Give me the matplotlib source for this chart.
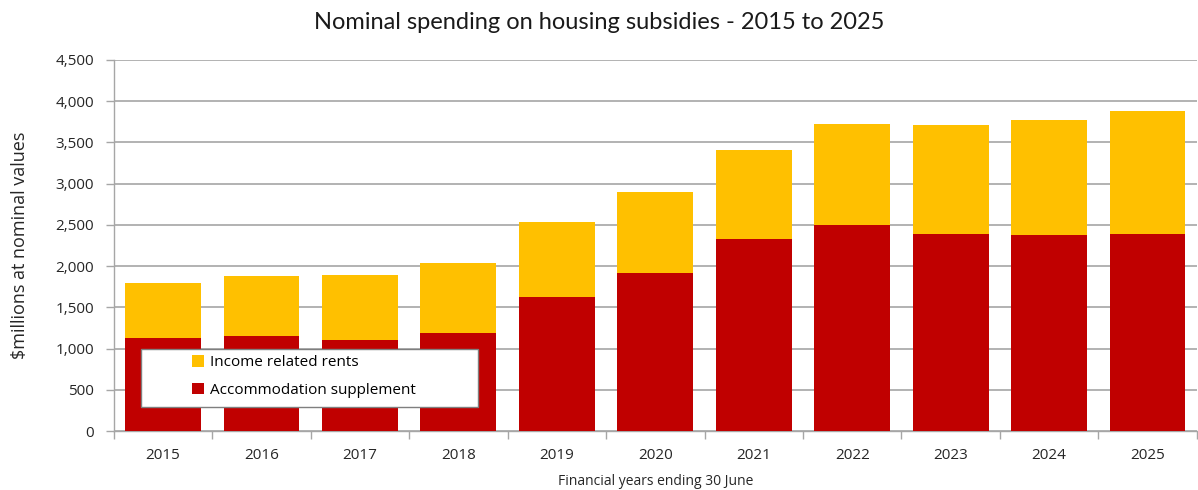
import matplotlib
matplotlib.use("Agg")
import matplotlib.pyplot as plt
import numpy as np
from matplotlib.ticker import FuncFormatter, FixedLocator
from matplotlib.patches import Rectangle

years = ["2015", "2016", "2017", "2018", "2019", "2020", "2021", "2022", "2023", "2024", "2025"]
accommodation_supplement = [1124, 1156, 1108, 1189, 1625, 1920, 2325, 2495, 2390, 2374, 2390]
total_spending = [1792, 1880, 1892, 2038, 2539, 2899, 3409, 3724, 3708, 3769, 3878]
income_related_rents = [t - a for t, a in zip(total_spending, accommodation_supplement)]

RED = "#C00000"
GOLD = "#FFC000"
GRID = "#A6A6A6"
TEXT = "#262626"

plt.rcParams["font.family"] = ["Open Sans", "DejaVu Sans"]

fig = plt.figure(figsize=(11.98, 4.9), dpi=100)
ax = fig.add_axes([0.095, 0.120, 0.904, 0.758])

x = np.arange(len(years))
w = 0.77
ax.bar(x, accommodation_supplement, w, color=RED, label="Accommodation supplement", zorder=3)
ax.bar(x, income_related_rents, w, bottom=accommodation_supplement, color=GOLD,
       label="Income related rents", zorder=3)

ax.set_xlim(-0.5, len(years) - 0.5)
ax.set_ylim(0, 4500)
ax.set_yticks(np.arange(0, 4501, 500))
ax.yaxis.set_major_formatter(FuncFormatter(lambda v, p: f"{int(v):,}"))
ax.grid(axis="y", color=GRID, linewidth=1.2, zorder=0)

ax.set_xticks(x)
ax.set_xticklabels(years)
ax.xaxis.set_minor_locator(FixedLocator(np.arange(-0.5, len(years), 1.0)))
ax.tick_params(axis="x", which="major", length=0, pad=12, labelsize=11, colors=TEXT)
ax.tick_params(axis="x", which="minor", length=6, color=GRID, width=1)
ax.tick_params(axis="y", length=6, color=GRID, width=1, labelsize=11, pad=8, labelcolor=TEXT)

for s in ["top", "right"]:
    ax.spines[s].set_visible(False)
for s in ["left", "bottom"]:
    ax.spines[s].set_color(GRID)
    ax.spines[s].set_linewidth(1)

ax.set_ylabel("$millions at nominal values", fontsize=13, color=TEXT, labelpad=12)
ax.yaxis.set_label_coords(-0.078, 0.5)
ax.set_xlabel("Financial years ending 30 June", fontsize=10, color=TEXT, labelpad=8)

fig.text(0.5, 0.955, "Nominal spending on housing subsidies - 2015 to 2025",
         ha="center", va="center", fontsize=17, family=["Lato", "DejaVu Sans"],
         fontweight="normal", color="#1a1a1a")

# legend box drawn as a white rectangle with the entries laid over it
box = Rectangle((0.025, 0.066), 0.311, 0.156, transform=ax.transAxes,
                facecolor="white", edgecolor="#7F7F7F", linewidth=1, zorder=5)
ax.add_patch(box)
handles, labels = ax.get_legend_handles_labels()
leg = ax.legend(handles[::-1], labels[::-1], loc="lower left",
                bbox_to_anchor=(0.066, 0.072), fontsize=11, frameon=False,
                handlelength=0.75, handleheight=0.75, borderpad=0.45,
                labelspacing=0.8, handletextpad=0.45, borderaxespad=0)
leg.set_zorder(6)

fig.savefig("out.png", dpi=100)
